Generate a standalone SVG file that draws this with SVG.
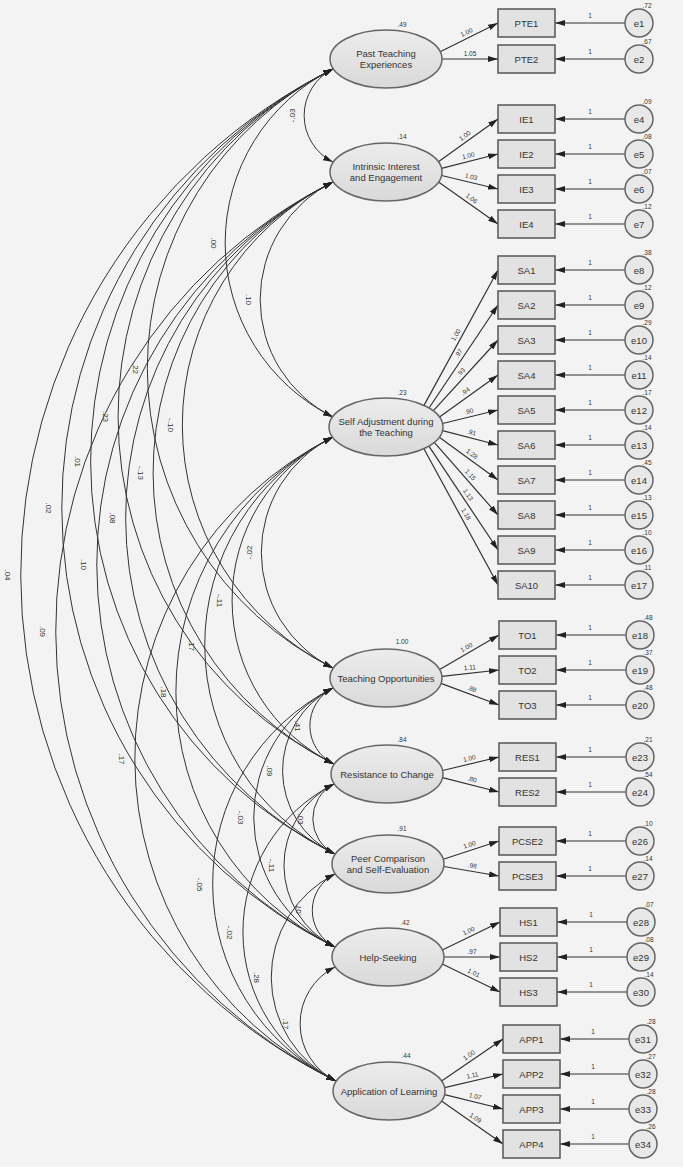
<svg xmlns="http://www.w3.org/2000/svg" width="685" height="1170" viewBox="0 0 685 1170">
<style>
text{font-family:"Liberation Sans",Arial,sans-serif;fill:#333}
.lat{fill:url(#gl);stroke:#666;stroke-width:1.5}
.obs{fill:#e2e2e2;stroke:#555;stroke-width:1.5}
.err{fill:#e8e8e8;stroke:#666;stroke-width:1.5}
.nt{font-size:9.5px;text-anchor:middle;dominant-baseline:central}
.arc{fill:none;stroke:#333;stroke-width:1;marker-start:url(#ah);marker-end:url(#ah)}
.ln{fill:none;stroke:#333;stroke-width:1.2;marker-end:url(#ah)}
.cl{font-size:8px;text-anchor:middle;dominant-baseline:central}
.sl{font-size:6.5px;text-anchor:middle;dominant-baseline:central}
.vl{font-size:6.5px;text-anchor:middle}
</style>
<defs>
<linearGradient id="gl" x1="0" y1="0" x2="0" y2="1"><stop offset="0" stop-color="#ececec"/><stop offset="1" stop-color="#d9d9d9"/></linearGradient>
<marker id="ah" markerUnits="userSpaceOnUse" markerWidth="10" markerHeight="6" refX="10" refY="3" orient="auto-start-reverse"><path d="M0,0 L10,3 L0,6 z" fill="#222"/></marker>
</defs>
<rect x="0" y="0" width="685" height="1170" fill="#ffffff"/>
<rect x="0" y="0" width="683" height="1167" fill="#f3f3f3"/>

<g id="connectors">
<g id="covariances">
<path class="arc" d="M333,69 A51.9,51.9 0 0 0 333,162"/>
<path class="arc" d="M333,69 A194.3,194.3 0 0 0 333,417"/>
<path class="arc" d="M333,69 A334.4,334.4 0 0 0 333,668"/>
<path class="arc" d="M333,69 A388,388 0 0 0 334,764"/>
<path class="arc" d="M333,69 A438.2,438.2 0 0 0 335,854"/>
<path class="arc" d="M333,69 A490.1,490.1 0 0 0 335,947"/>
<path class="arc" d="M333,69 A564.9,564.9 0 0 0 336,1081"/>
<path class="arc" d="M333,182 A131.2,131.2 0 0 0 333,417"/>
<path class="arc" d="M333,182 A271.3,271.3 0 0 0 333,668"/>
<path class="arc" d="M333,182 A324.9,324.9 0 0 0 334,764"/>
<path class="arc" d="M333,182 A375.1,375.1 0 0 0 335,854"/>
<path class="arc" d="M333,182 A427,427 0 0 0 335,947"/>
<path class="arc" d="M333,182 A501.8,501.8 0 0 0 336,1081"/>
<path class="arc" d="M333,437 A128.9,128.9 0 0 0 333,668"/>
<path class="arc" d="M333,437 A182.5,182.5 0 0 0 334,764"/>
<path class="arc" d="M333,437 A232.8,232.8 0 0 0 335,854"/>
<path class="arc" d="M333,437 A284.7,284.7 0 0 0 335,947"/>
<path class="arc" d="M333,437 A359.5,359.5 0 0 0 336,1081"/>
<path class="arc" d="M333,688 A42.4,42.4 0 0 0 334,764"/>
<path class="arc" d="M333,688 A92.7,92.7 0 0 0 335,854"/>
<path class="arc" d="M333,688 A144.6,144.6 0 0 0 335,947"/>
<path class="arc" d="M333,688 A219.4,219.4 0 0 0 336,1081"/>
<path class="arc" d="M334,784 A39.1,39.1 0 0 0 335,854"/>
<path class="arc" d="M334,784 A91,91 0 0 0 335,947"/>
<path class="arc" d="M334,784 A165.8,165.8 0 0 0 336,1081"/>
<path class="arc" d="M335,874 A40.7,40.7 0 0 0 335,947"/>
<path class="arc" d="M335,874 A115.5,115.5 0 0 0 336,1081"/>
<path class="arc" d="M335,967 A63.6,63.6 0 0 0 336,1081"/>
</g>
<g id="covariance-labels">
<text class="cl" transform="rotate(-90 292 115.5)" x="292" y="115.5">-.03</text>
<text class="cl" transform="rotate(90 213 243)" x="213" y="243">.00</text>
<text class="cl" transform="rotate(90 135 368.5)" x="135" y="368.5">.22</text>
<text class="cl" transform="rotate(90 105.5 416.5)" x="105.5" y="416.5">.23</text>
<text class="cl" transform="rotate(90 77.6 461.5)" x="77.6" y="461.5">.01</text>
<text class="cl" transform="rotate(90 48.8 508)" x="48.8" y="508">.02</text>
<text class="cl" transform="rotate(90 7.5 575)" x="7.5" y="575">.04</text>
<text class="cl" transform="rotate(90 248 299.5)" x="248" y="299.5">.10</text>
<text class="cl" transform="rotate(90 170 425)" x="170" y="425">-.10</text>
<text class="cl" transform="rotate(90 140.6 473)" x="140.6" y="473">-.13</text>
<text class="cl" transform="rotate(90 112.7 518)" x="112.7" y="518">.08</text>
<text class="cl" transform="rotate(90 83.8 564.5)" x="83.8" y="564.5">.10</text>
<text class="cl" transform="rotate(90 42.3 631.5)" x="42.3" y="631.5">.09</text>
<text class="cl" transform="rotate(-90 249.4 552.5)" x="249.4" y="552.5">-.02</text>
<text class="cl" transform="rotate(90 219.6 600.5)" x="219.6" y="600.5">-.11</text>
<text class="cl" transform="rotate(90 191.7 645.5)" x="191.7" y="645.5">.17</text>
<text class="cl" transform="rotate(90 163 692)" x="163" y="692">.18</text>
<text class="cl" transform="rotate(90 121.4 759)" x="121.4" y="759">.17</text>
<text class="cl" transform="rotate(90 297.4 726)" x="297.4" y="726">.41</text>
<text class="cl" transform="rotate(90 269.5 771)" x="269.5" y="771">.09</text>
<text class="cl" transform="rotate(90 240.7 817.5)" x="240.7" y="817.5">-.03</text>
<text class="cl" transform="rotate(90 199.2 884.5)" x="199.2" y="884.5">-.05</text>
<text class="cl" transform="rotate(90 300 819)" x="300" y="819">.03</text>
<text class="cl" transform="rotate(90 271.5 865.5)" x="271.5" y="865.5">-.11</text>
<text class="cl" transform="rotate(90 229 932.5)" x="229" y="932.5">-.02</text>
<text class="cl" transform="rotate(-90 298 910.5)" x="298" y="910.5">.07</text>
<text class="cl" transform="rotate(90 256.8 977.5)" x="256.8" y="977.5">.28</text>
<text class="cl" transform="rotate(90 285.7 1024)" x="285.7" y="1024">.17</text>
</g>
<g id="loadings">
<path class="ln" d="M440.2,51.8 L498,23"/>
<path class="ln" d="M442,59 L498,59"/>
<path class="ln" d="M438.4,161.8 L498,119"/>
<path class="ln" d="M441.5,168.3 L498,154"/>
<path class="ln" d="M441.6,175.5 L498,189"/>
<path class="ln" d="M438.5,182.1 L498,224"/>
<path class="ln" d="M424,405.4 L498,270"/>
<path class="ln" d="M429,408 L498,305"/>
<path class="ln" d="M432.5,411.7 L498,340"/>
<path class="ln" d="M439.5,416.9 L498,375"/>
<path class="ln" d="M442.6,423.5 L498,410"/>
<path class="ln" d="M442.5,430.7 L498,445"/>
<path class="ln" d="M439.3,437.2 L498,480"/>
<path class="ln" d="M434.3,442.4 L498,515"/>
<path class="ln" d="M428.9,446.1 L498,550"/>
<path class="ln" d="M423.9,448.7 L498,585"/>
<path class="ln" d="M439.6,669.6 L499,635"/>
<path class="ln" d="M441.9,676.4 L499,670"/>
<path class="ln" d="M441,683.4 L499,705"/>
<path class="ln" d="M442.6,770.5 L499,757"/>
<path class="ln" d="M442.5,777.7 L499,792"/>
<path class="ln" d="M443.3,859.3 L499,841"/>
<path class="ln" d="M443.8,866.5 L499,876"/>
<path class="ln" d="M442.3,950 L500,922"/>
<path class="ln" d="M444,957 L500,957"/>
<path class="ln" d="M442.3,964 L500,992"/>
<path class="ln" d="M441.6,1081.1 L503,1039"/>
<path class="ln" d="M444.6,1087.6 L503,1074"/>
<path class="ln" d="M444.6,1094.6 L503,1109"/>
<path class="ln" d="M441.5,1101.1 L503,1144"/>
</g>
<g id="loading-labels">
<text class="sl" transform="rotate(-26.5 466.4 32)" x="466.4" y="32">1.00</text>
<text class="sl" x="470" y="53">1.05</text>
<text class="sl" transform="rotate(-35.7 464.7 135.5)" x="464.7" y="135.5">1.00</text>
<text class="sl" transform="rotate(-14.2 468.3 155.4)" x="468.3" y="155.4">1.00</text>
<text class="sl" transform="rotate(13.5 471.2 176.5)" x="471.2" y="176.5">1.03</text>
<text class="sl" transform="rotate(35.2 471.8 198.2)" x="471.8" y="198.2">1.06</text>
<text class="sl" transform="rotate(-61.3 455.7 334.8)" x="455.7" y="334.8">1.00</text>
<text class="sl" transform="rotate(-56.2 458.5 353.2)" x="458.5" y="353.2">.97</text>
<text class="sl" transform="rotate(-47.6 460.8 371.9)" x="460.8" y="371.9">.93</text>
<text class="sl" transform="rotate(-35.6 465.2 391.1)" x="465.2" y="391.1">.94</text>
<text class="sl" transform="rotate(-13.7 468.9 411)" x="468.9" y="411">.90</text>
<text class="sl" transform="rotate(14.5 471.8 432.1)" x="471.8" y="432.1">.91</text>
<text class="sl" transform="rotate(36.1 472.1 453.7)" x="472.1" y="453.7">1.28</text>
<text class="sl" transform="rotate(48.7 470.6 474.7)" x="470.6" y="474.7">1.15</text>
<text class="sl" transform="rotate(56.4 468.4 494.7)" x="468.4" y="494.7">1.13</text>
<text class="sl" transform="rotate(61.5 466.3 514)" x="466.3" y="514">1.18</text>
<text class="sl" transform="rotate(-30.2 466.3 647.1)" x="466.3" y="647.1">1.00</text>
<text class="sl" transform="rotate(-6.4 469.8 667.2)" x="469.8" y="667.2">1.11</text>
<text class="sl" transform="rotate(20.4 472.1 688.6)" x="472.1" y="688.6">.88</text>
<text class="sl" transform="rotate(-13.5 469.4 758)" x="469.4" y="758">1.00</text>
<text class="sl" transform="rotate(14.2 472.3 779.1)" x="472.3" y="779.1">.80</text>
<text class="sl" transform="rotate(-18.2 469.3 844.5)" x="469.3" y="844.5">1.00</text>
<text class="sl" transform="rotate(9.8 472.4 865.4)" x="472.4" y="865.4">.98</text>
<text class="sl" transform="rotate(-25.9 468.6 930.6)" x="468.6" y="930.6">1.00</text>
<text class="sl" x="472" y="951">.97</text>
<text class="sl" transform="rotate(25.9 473.8 972.6)" x="473.8" y="972.6">1.01</text>
<text class="sl" transform="rotate(-34.4 468.9 1055)" x="468.9" y="1055">1.00</text>
<text class="sl" transform="rotate(-13.1 472.4 1075)" x="472.4" y="1075">1.11</text>
<text class="sl" transform="rotate(13.9 475.2 1096)" x="475.2" y="1096">1.07</text>
<text class="sl" transform="rotate(34.9 475.7 1117.7)" x="475.7" y="1117.7">1.09</text>
</g>
<g id="error-paths">
<path class="ln" d="M625,23 L555,23"/><path class="ln" d="M625,59 L555,59"/>
<path class="ln" d="M625,119 L555,119"/><path class="ln" d="M625,154 L555,154"/>
<path class="ln" d="M625,189 L555,189"/><path class="ln" d="M625,224 L555,224"/>
<path class="ln" d="M625,270 L555,270"/><path class="ln" d="M625,305 L555,305"/>
<path class="ln" d="M625,340 L555,340"/><path class="ln" d="M625,375 L555,375"/>
<path class="ln" d="M625,410 L555,410"/><path class="ln" d="M625,445 L555,445"/>
<path class="ln" d="M625,480 L555,480"/><path class="ln" d="M625,515 L555,515"/>
<path class="ln" d="M625,550 L555,550"/><path class="ln" d="M625,585 L555,585"/>
<path class="ln" d="M626,635 L556,635"/><path class="ln" d="M626,670 L556,670"/>
<path class="ln" d="M626,705 L556,705"/>
<path class="ln" d="M626,757 L556,757"/><path class="ln" d="M626,792 L556,792"/>
<path class="ln" d="M626,841 L556,841"/><path class="ln" d="M626,876 L556,876"/>
<path class="ln" d="M627,922 L557,922"/><path class="ln" d="M627,957 L557,957"/>
<path class="ln" d="M627,992 L557,992"/>
<path class="ln" d="M629,1039 L560,1039"/><path class="ln" d="M629,1074 L560,1074"/>
<path class="ln" d="M629,1109 L560,1109"/><path class="ln" d="M629,1144 L560,1144"/>
</g>
<g id="error-path-labels" class="vl">
<text x="590" y="18">1</text><text x="590" y="54">1</text>
<text x="590" y="114">1</text><text x="590" y="149">1</text><text x="590" y="184">1</text><text x="590" y="219">1</text>
<text x="590" y="265">1</text><text x="590" y="300">1</text><text x="590" y="335">1</text><text x="590" y="370">1</text><text x="590" y="405">1</text>
<text x="590" y="440">1</text><text x="590" y="475">1</text><text x="590" y="510">1</text><text x="590" y="545">1</text><text x="590" y="580">1</text>
<text x="590" y="630">1</text><text x="590" y="665">1</text><text x="590" y="700">1</text>
<text x="590" y="752">1</text><text x="590" y="787">1</text>
<text x="590" y="836">1</text><text x="590" y="871">1</text>
<text x="591" y="917">1</text><text x="591" y="952">1</text><text x="591" y="987">1</text>
<text x="593" y="1034">1</text><text x="593" y="1069">1</text><text x="593" y="1104">1</text><text x="593" y="1139">1</text>
</g>
</g>

<g id="PTE"><ellipse class="lat" cx="386" cy="59" rx="56" ry="29"/><text class="nt" x="386" y="53">Past Teaching</text><text class="nt" x="386" y="64.5">Experiences</text><text class="vl" x="402" y="27">.49</text></g>
<g id="IIE"><ellipse class="lat" cx="386" cy="172" rx="56" ry="29"/><text class="nt" x="386" y="166">Intrinsic Interest</text><text class="nt" x="386" y="177.5">and Engagement</text><text class="vl" x="402" y="139">.14</text></g>
<g id="SA"><ellipse class="lat" cx="386" cy="427" rx="57" ry="29"/><text class="nt" x="386" y="421">Self Adjustment during</text><text class="nt" x="386" y="432.5">the Teaching</text><text class="vl" x="402" y="395">.23</text></g>
<g id="TO"><ellipse class="lat" cx="386" cy="678" rx="56" ry="29"/><text class="nt" x="386" y="678">Teaching Opportunities</text><text class="vl" x="402" y="644">1.00</text></g>
<g id="RES"><ellipse class="lat" cx="387" cy="774" rx="56" ry="29"/><text class="nt" x="387" y="774">Resistance to Change</text><text class="vl" x="402" y="742">.84</text></g>
<g id="PCSE"><ellipse class="lat" cx="388" cy="864" rx="56" ry="29"/><text class="nt" x="388" y="858">Peer Comparison</text><text class="nt" x="388" y="869.5">and Self-Evaluation</text><text class="vl" x="402" y="831">.91</text></g>
<g id="HS"><ellipse class="lat" cx="388" cy="957" rx="56" ry="29"/><text class="nt" x="388" y="957">Help-Seeking</text><text class="vl" x="405" y="925">.42</text></g>
<g id="APP"><ellipse class="lat" cx="389" cy="1091" rx="56" ry="29"/><text class="nt" x="389" y="1091">Application of Learning</text><text class="vl" x="406" y="1058">.44</text></g>

<g id="PTE1"><rect class="obs" x="498" y="9" width="57" height="28"/><text class="nt" x="526.5" y="23">PTE1</text></g>
<g id="PTE2"><rect class="obs" x="498" y="45" width="57" height="28"/><text class="nt" x="526.5" y="59">PTE2</text></g>
<g id="IE1"><rect class="obs" x="498" y="105" width="57" height="28"/><text class="nt" x="526.5" y="119">IE1</text></g>
<g id="IE2"><rect class="obs" x="498" y="140" width="57" height="28"/><text class="nt" x="526.5" y="154">IE2</text></g>
<g id="IE3"><rect class="obs" x="498" y="175" width="57" height="28"/><text class="nt" x="526.5" y="189">IE3</text></g>
<g id="IE4"><rect class="obs" x="498" y="210" width="57" height="28"/><text class="nt" x="526.5" y="224">IE4</text></g>
<g id="SA1"><rect class="obs" x="498" y="256" width="57" height="28"/><text class="nt" x="526.5" y="270">SA1</text></g>
<g id="SA2"><rect class="obs" x="498" y="291" width="57" height="28"/><text class="nt" x="526.5" y="305">SA2</text></g>
<g id="SA3"><rect class="obs" x="498" y="326" width="57" height="28"/><text class="nt" x="526.5" y="340">SA3</text></g>
<g id="SA4"><rect class="obs" x="498" y="361" width="57" height="28"/><text class="nt" x="526.5" y="375">SA4</text></g>
<g id="SA5"><rect class="obs" x="498" y="396" width="57" height="28"/><text class="nt" x="526.5" y="410">SA5</text></g>
<g id="SA6"><rect class="obs" x="498" y="431" width="57" height="28"/><text class="nt" x="526.5" y="445">SA6</text></g>
<g id="SA7"><rect class="obs" x="498" y="466" width="57" height="28"/><text class="nt" x="526.5" y="480">SA7</text></g>
<g id="SA8"><rect class="obs" x="498" y="501" width="57" height="28"/><text class="nt" x="526.5" y="515">SA8</text></g>
<g id="SA9"><rect class="obs" x="498" y="536" width="57" height="28"/><text class="nt" x="526.5" y="550">SA9</text></g>
<g id="SA10"><rect class="obs" x="498" y="571" width="57" height="28"/><text class="nt" x="526.5" y="585">SA10</text></g>
<g id="TO1"><rect class="obs" x="499" y="621" width="57" height="28"/><text class="nt" x="527.5" y="635">TO1</text></g>
<g id="TO2"><rect class="obs" x="499" y="656" width="57" height="28"/><text class="nt" x="527.5" y="670">TO2</text></g>
<g id="TO3"><rect class="obs" x="499" y="691" width="57" height="28"/><text class="nt" x="527.5" y="705">TO3</text></g>
<g id="RES1"><rect class="obs" x="499" y="743" width="57" height="28"/><text class="nt" x="527.5" y="757">RES1</text></g>
<g id="RES2"><rect class="obs" x="499" y="778" width="57" height="28"/><text class="nt" x="527.5" y="792">RES2</text></g>
<g id="PCSE2"><rect class="obs" x="499" y="827" width="57" height="28"/><text class="nt" x="527.5" y="841">PCSE2</text></g>
<g id="PCSE3"><rect class="obs" x="499" y="862" width="57" height="28"/><text class="nt" x="527.5" y="876">PCSE3</text></g>
<g id="HS1"><rect class="obs" x="500" y="908" width="57" height="28"/><text class="nt" x="528.5" y="922">HS1</text></g>
<g id="HS2"><rect class="obs" x="500" y="943" width="57" height="28"/><text class="nt" x="528.5" y="957">HS2</text></g>
<g id="HS3"><rect class="obs" x="500" y="978" width="57" height="28"/><text class="nt" x="528.5" y="992">HS3</text></g>
<g id="APP1"><rect class="obs" x="503" y="1025" width="57" height="28"/><text class="nt" x="531.5" y="1039">APP1</text></g>
<g id="APP2"><rect class="obs" x="503" y="1060" width="57" height="28"/><text class="nt" x="531.5" y="1074">APP2</text></g>
<g id="APP3"><rect class="obs" x="503" y="1095" width="57" height="28"/><text class="nt" x="531.5" y="1109">APP3</text></g>
<g id="APP4"><rect class="obs" x="503" y="1130" width="57" height="28"/><text class="nt" x="531.5" y="1144">APP4</text></g>

<g id="e1"><circle class="err" cx="639" cy="23" r="14"/><text class="nt" x="639" y="23">e1</text><text class="vl" x="647" y="8">.72</text></g>
<g id="e2"><circle class="err" cx="639" cy="59" r="14"/><text class="nt" x="639" y="59">e2</text><text class="vl" x="647" y="44">.67</text></g>
<g id="e4"><circle class="err" cx="639" cy="119" r="14"/><text class="nt" x="639" y="119">e4</text><text class="vl" x="647" y="104">.09</text></g>
<g id="e5"><circle class="err" cx="639" cy="154" r="14"/><text class="nt" x="639" y="154">e5</text><text class="vl" x="647" y="139">.08</text></g>
<g id="e6"><circle class="err" cx="639" cy="189" r="14"/><text class="nt" x="639" y="189">e6</text><text class="vl" x="647" y="174">.07</text></g>
<g id="e7"><circle class="err" cx="639" cy="224" r="14"/><text class="nt" x="639" y="224">e7</text><text class="vl" x="647" y="209">.12</text></g>
<g id="e8"><circle class="err" cx="639" cy="270" r="14"/><text class="nt" x="639" y="270">e8</text><text class="vl" x="647" y="255">.38</text></g>
<g id="e9"><circle class="err" cx="639" cy="305" r="14"/><text class="nt" x="639" y="305">e9</text><text class="vl" x="647" y="290">.12</text></g>
<g id="e10"><circle class="err" cx="639" cy="340" r="14"/><text class="nt" x="639" y="340">e10</text><text class="vl" x="647" y="325">.29</text></g>
<g id="e11"><circle class="err" cx="639" cy="375" r="14"/><text class="nt" x="639" y="375">e11</text><text class="vl" x="647" y="360">.14</text></g>
<g id="e12"><circle class="err" cx="639" cy="410" r="14"/><text class="nt" x="639" y="410">e12</text><text class="vl" x="647" y="395">.17</text></g>
<g id="e13"><circle class="err" cx="639" cy="445" r="14"/><text class="nt" x="639" y="445">e13</text><text class="vl" x="647" y="430">.14</text></g>
<g id="e14"><circle class="err" cx="639" cy="480" r="14"/><text class="nt" x="639" y="480">e14</text><text class="vl" x="647" y="465">.45</text></g>
<g id="e15"><circle class="err" cx="639" cy="515" r="14"/><text class="nt" x="639" y="515">e15</text><text class="vl" x="647" y="500">.13</text></g>
<g id="e16"><circle class="err" cx="639" cy="550" r="14"/><text class="nt" x="639" y="550">e16</text><text class="vl" x="647" y="535">.10</text></g>
<g id="e17"><circle class="err" cx="639" cy="585" r="14"/><text class="nt" x="639" y="585">e17</text><text class="vl" x="647" y="570">.11</text></g>
<g id="e18"><circle class="err" cx="640" cy="635" r="14"/><text class="nt" x="640" y="635">e18</text><text class="vl" x="648" y="620">.48</text></g>
<g id="e19"><circle class="err" cx="640" cy="670" r="14"/><text class="nt" x="640" y="670">e19</text><text class="vl" x="648" y="655">.37</text></g>
<g id="e20"><circle class="err" cx="640" cy="705" r="14"/><text class="nt" x="640" y="705">e20</text><text class="vl" x="648" y="690">.48</text></g>
<g id="e23"><circle class="err" cx="640" cy="757" r="14"/><text class="nt" x="640" y="757">e23</text><text class="vl" x="648" y="742">.21</text></g>
<g id="e24"><circle class="err" cx="640" cy="792" r="14"/><text class="nt" x="640" y="792">e24</text><text class="vl" x="648" y="777">.54</text></g>
<g id="e26"><circle class="err" cx="640" cy="841" r="14"/><text class="nt" x="640" y="841">e26</text><text class="vl" x="648" y="826">.10</text></g>
<g id="e27"><circle class="err" cx="640" cy="876" r="14"/><text class="nt" x="640" y="876">e27</text><text class="vl" x="648" y="861">.14</text></g>
<g id="e28"><circle class="err" cx="641" cy="922" r="14"/><text class="nt" x="641" y="922">e28</text><text class="vl" x="649" y="907">.07</text></g>
<g id="e29"><circle class="err" cx="641" cy="957" r="14"/><text class="nt" x="641" y="957">e29</text><text class="vl" x="649" y="942">.08</text></g>
<g id="e30"><circle class="err" cx="641" cy="992" r="14"/><text class="nt" x="641" y="992">e30</text><text class="vl" x="649" y="977">.14</text></g>
<g id="e31"><circle class="err" cx="643" cy="1039" r="14"/><text class="nt" x="643" y="1039">e31</text><text class="vl" x="651" y="1024">.28</text></g>
<g id="e32"><circle class="err" cx="643" cy="1074" r="14"/><text class="nt" x="643" y="1074">e32</text><text class="vl" x="651" y="1059">.27</text></g>
<g id="e33"><circle class="err" cx="643" cy="1109" r="14"/><text class="nt" x="643" y="1109">e33</text><text class="vl" x="651" y="1094">.28</text></g>
<g id="e34"><circle class="err" cx="643" cy="1144" r="14"/><text class="nt" x="643" y="1144">e34</text><text class="vl" x="651" y="1129">.26</text></g>
</svg>
